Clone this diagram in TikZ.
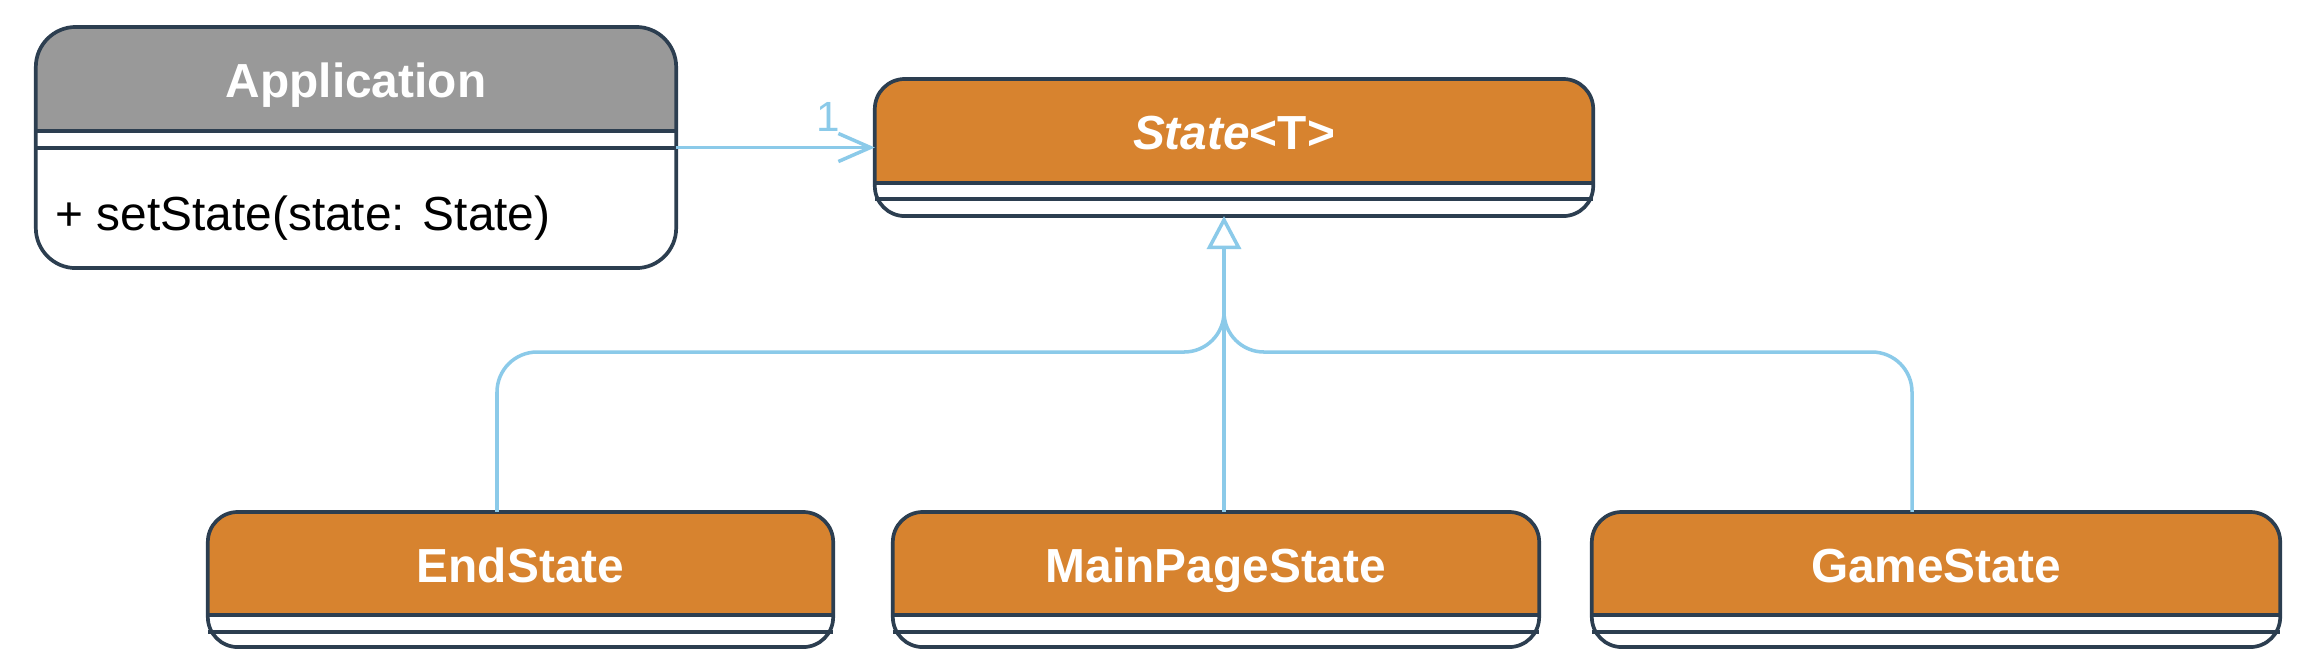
\documentclass[tikz,border=0pt]{standalone}
\usepackage{fontspec}
\setmainfont{Liberation Sans}
\usetikzlibrary{positioning, calc}
\usetikzlibrary{arrows.meta}
\definecolor{headgray}{HTML}{999999}
\definecolor{headorange}{HTML}{D7832F}
\definecolor{boxline}{HTML}{2C3E50}
\definecolor{linkblue}{HTML}{8BCAE9}
\tikzset{
  font={\fontsize{13.6pt}{16pt}\selectfont}}
\tikzset{
  classbox/.style={draw=none, inner sep=0pt, outer sep=0pt},
  headtext/.style={text=white, font={\fontsize{13.6pt}{16pt}\selectfont\bfseries}, anchor=base, inner sep=0pt},
  border/.style={draw=boxline, line width=1.05pt},
  link/.style={draw=linkblue, line width=1pt},
  generalize/.style={link, -{Triangle[open, length=0.33cm, width=0.34cm]}},
  assoc/.style={link, -{Straight Barb[length=0.32cm, width=0.28cm]}},
  mult/.style={text=linkblue, inner sep=0pt, font={\fontsize{12pt}{14pt}\selectfont}},
}

\begin{document}
\begin{tikzpicture}[x=0.01cm, y=-0.01cm]
     \fill[white] (0,0) rectangle (2303,650);
     \useasboundingbox (0,0) rectangle (2303,650);

     % class boxes
     \node[classbox, minimum width=6.4cm, minimum height=2.41cm] (app) at (356,147.5) {};
     \node[classbox, minimum width=7.18cm, minimum height=1.37cm] (state) at (1234,147.5) {};
     \node[classbox, minimum width=6.25cm, minimum height=1.35cm] (endst) at (520.5,579.5) {};
     \node[classbox, minimum width=6.46cm, minimum height=1.35cm] (mainst) at (1216,579.5) {};
     \node[classbox, minimum width=6.88cm, minimum height=1.35cm] (gamest) at (1936,579.5) {};

     %% headers
     \begin{scope}
       \clip[rounded corners=0.4cm] (app.south west) rectangle (app.north east);
       \fill[headgray] (app.north west) rectangle ($(app.north east)+(0,104)$);
     \end{scope}
     \begin{scope}
       \clip[rounded corners=0.3cm] (state.south west) rectangle (state.north east);
       \fill[headorange] (state.north west) rectangle ($(state.north east)+(0,104)$);
     \end{scope}
     \begin{scope}
       \clip[rounded corners=0.3cm] (endst.south west) rectangle (endst.north east);
       \fill[headorange] (endst.north west) rectangle ($(endst.north east)+(0,103)$);
     \end{scope}
     \begin{scope}
       \clip[rounded corners=0.3cm] (mainst.south west) rectangle (mainst.north east);
       \fill[headorange] (mainst.north west) rectangle ($(mainst.north east)+(0,103)$);
     \end{scope}
     \begin{scope}
       \clip[rounded corners=0.3cm] (gamest.south west) rectangle (gamest.north east);
       \fill[headorange] (gamest.north west) rectangle ($(gamest.north east)+(0,103)$);
     \end{scope}

     %% outlines and compartments
     \draw[border, rounded corners=0.4cm] (app.south west) rectangle (app.north east);
     \draw[border] ($(app.north west)+(0,104)$) -- ($(app.north east)+(0,104)$);
     \draw[border] ($(app.north west)+(0,121)$) -- ($(app.north east)+(0,121)$);

     \draw[border, rounded corners=0.3cm] (state.south west) rectangle (state.north east);
     \draw[border] ($(state.north west)+(0,104)$) -- ($(state.north east)+(0,104)$);
     \draw[border] ($(state.north west)+(0,120)$) -- ($(state.north east)+(0,120)$);

     \draw[border, rounded corners=0.3cm] (endst.south west) rectangle (endst.north east);
     \draw[border] ($(endst.north west)+(0,103)$) -- ($(endst.north east)+(0,103)$);
     \draw[border] ($(endst.north west)+(0,120)$) -- ($(endst.north east)+(0,120)$);

     \draw[border, rounded corners=0.3cm] (mainst.south west) rectangle (mainst.north east);
     \draw[border] ($(mainst.north west)+(0,103)$) -- ($(mainst.north east)+(0,103)$);
     \draw[border] ($(mainst.north west)+(0,120)$) -- ($(mainst.north east)+(0,120)$);

     \draw[border, rounded corners=0.3cm] (gamest.south west) rectangle (gamest.north east);
     \draw[border] ($(gamest.north west)+(0,103)$) -- ($(gamest.north east)+(0,103)$);
     \draw[border] ($(gamest.north west)+(0,120)$) -- ($(gamest.north east)+(0,120)$);

     %% texts
     \node[headtext] (appname) at ($(app.north)+(0,71)$) {Application};
     \node[headtext] (statename) at ($(state.north)+(0,71)$) {\textit{State}<T>};
     \node[headtext] (endname) at ($(endst.north)+(0,71)$) {EndState};
     \node[headtext] (mainname) at ($(mainst.north)+(0,71)$) {MainPageState};
     \node[headtext] (gamename) at ($(gamest.north)+(0,71)$) {GameState};
     \node[anchor=base west, inner sep=0pt] (setstate) at ($(app.north west)+(19,204)$) {+ setState(state: State)};

     %% connectors
     \draw[assoc] (app.east) -- (state.west) node[mult, pos=1, above left=0.145cm and 0.33cm] (one) {1};

     \coordinate (stateBot) at ($(state.south)+(-10,0)$);
     \coordinate (hub) at (1224,352);
     \draw[generalize] (mainst.north -| stateBot) -- (stateBot);
     \draw[link, rounded corners=0.4cm] ($(endst.north)+(-23.5,0)$) |- (hub) -- ++(0,-60);
     \draw[link, rounded corners=0.4cm] ($(gamest.north)+(-24,0)$) |- (hub) -- ++(0,-60);
\end{tikzpicture}
\end{document}
